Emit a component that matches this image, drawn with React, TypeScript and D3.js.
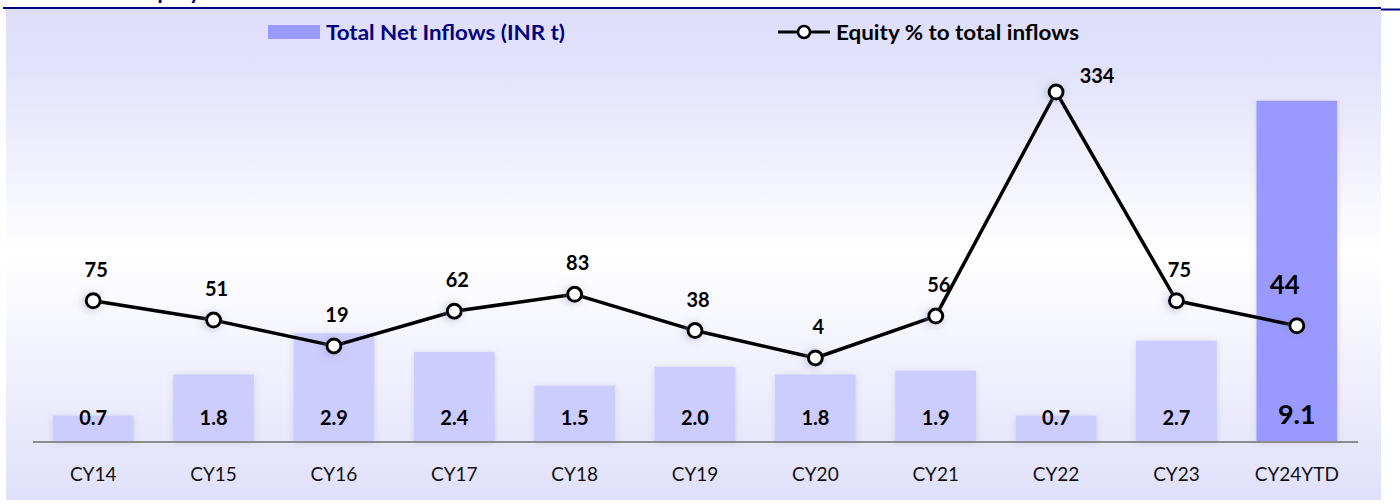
import React from "react";
import * as d3 from "d3";

const categories = ["CY14", "CY15", "CY16", "CY17", "CY18", "CY19", "CY20", "CY21", "CY22", "CY23", "CY24YTD"];
const netInflows = [0.7, 1.8, 2.9, 2.4, 1.5, 2.0, 1.8, 1.9, 0.7, 2.7, 9.1];
const equityPct = [75, 51, 19, 62, 83, 38, 4, 56, 334, 75, 44];

const W = 1400;
const H = 504;
const FONT = "Lato, 'Open Sans', sans-serif";

export default function App() {
  const x = d3
    .scaleBand<string>()
    .domain(categories)
    .range([33, 1357])
    .paddingInner(0.33)
    .paddingOuter(0.165);

  const yBar = d3.scaleLinear().domain([0, 10]).range([442, 67]);
  const yLine = d3.scaleLinear().domain([0, 400]).range([361.2, 38.8]);

  const cx = (c: string) => (x(c) as number) + x.bandwidth() / 2;
  const last = categories.length - 1;

  const line = d3
    .line<number>()
    .x((_, i) => cx(categories[i]))
    .y((d) => yLine(d));

  return (
    <div style={{ position: "absolute", left: 0, top: 0 }}>
      <svg width={W} height={H} style={{ display: "block" }}>
        <defs>
          <linearGradient id="bg" x1="0" y1="0" x2="0" y2="1">
            <stop offset="0%" stopColor="#dedefb" />
            <stop offset="12%" stopColor="#e2e2fc" />
            <stop offset="50%" stopColor="#ffffff" />
            <stop offset="100%" stopColor="#e0e0fb" />
          </linearGradient>
          <filter id="shadow" x="-20%" y="-20%" width="140%" height="140%">
            <feDropShadow dx="0" dy="1" stdDeviation="3" floodColor="#8080a0" floodOpacity="0.25" />
          </filter>
          <filter id="glow" x="-100%" y="-100%" width="300%" height="300%">
            <feDropShadow dx="-2" dy="1" stdDeviation="4" floodColor="#9090b0" floodOpacity="0.5" />
          </filter>
        </defs>

        <rect x={0} y={0} width={W} height={H} fill="#ffffff" />
        <rect x={6} y={9} width={1375} height={491} fill="url(#bg)" />

        {/* title, mostly cut off above */}
        <text x={138} y={-1} fontFamily={FONT} fontWeight="bold" fontSize={22} fill="#000080">
          Equity
        </text>
        <line x1={3} x2={1381} y1={8} y2={8} stroke="#000080" strokeWidth={2} />
        <line x1={1381} x2={1400} y1={9.5} y2={9.5} stroke="#000080" strokeWidth={2} />

        {/* legend */}
        <rect x={268} y={25} width={52} height={14} fill="#9999ff" />
        <text x={326} y={32} dominantBaseline="central" fontFamily={FONT} fontWeight="bold" fontSize={20} fill="#000080" textLength={239} lengthAdjust="spacingAndGlyphs">
          Total Net Inflows (INR t)
        </text>
        <line x1={778} x2={830} y1={32} y2={32} stroke="#000" strokeWidth={3} />
        <circle cx={804} cy={32} r={6} fill="#fff" stroke="#000" strokeWidth={2.5} />
        <text x={836} y={32} dominantBaseline="central" fontFamily={FONT} fontWeight="bold" fontSize={20} fill="#000" textLength={243} lengthAdjust="spacingAndGlyphs">
          Equity % to total inflows
        </text>

        {/* bars */}
        {netInflows.map((v, i) => (
          <rect
            key={categories[i]}
            x={x(categories[i])}
            y={yBar(v)}
            width={x.bandwidth()}
            height={yBar(0) - yBar(v)}
            fill={i === last ? "#9999ff" : "#ccccff"}
            filter="url(#shadow)"
          />
        ))}

        {/* axis */}
        <line x1={33} x2={1358} y1={442} y2={442} stroke="#8c8c8c" strokeWidth={2} />
        {categories.map((c) => (
          <text key={c} x={cx(c)} y={473} textAnchor="middle" dominantBaseline="central" fontFamily={FONT} fontSize={19} fill="#111">
            {c}
          </text>
        ))}

        {/* bar labels */}
        {netInflows.map((v, i) => (
          <text
            key={categories[i]}
            x={cx(categories[i])}
            y={i === last ? 413 : 417}
            textAnchor="middle"
            dominantBaseline="central"
            fontFamily={FONT}
            fontWeight="bold"
            fontSize={i === last ? 27 : 20}
            fill="#000"
          >
            {v.toFixed(1)}
          </text>
        ))}

        {/* line */}
        <path d={line(equityPct) || ""} fill="none" stroke="#000" strokeWidth={3.5} strokeLinejoin="round" />
        {equityPct.map((v, i) => (
          <circle
            key={categories[i]}
            cx={cx(categories[i])}
            cy={yLine(v)}
            r={7}
            fill="#fff"
            stroke="#000"
            strokeWidth={3}
            filter="url(#glow)"
          />
        ))}

        {/* line labels */}
        {equityPct.map((v, i) => {
          let lx = cx(categories[i]) + 3;
          let ly = yLine(v) - 32;
          let size = 20;
          if (v === 334) {
            lx = cx(categories[i]) + 41;
            ly = yLine(v) - 17;
          }
          if (i === last) {
            lx = cx(categories[i]) - 12;
            ly = yLine(v) - 42;
            size = 26;
          }
          return (
            <text
              key={categories[i]}
              x={lx}
              y={ly}
              textAnchor="middle"
              dominantBaseline="central"
              fontFamily={FONT}
              fontWeight="bold"
              fontSize={size}
              fill="#000"
            >
              {v}
            </text>
          );
        })}
      </svg>
    </div>
  );
}
